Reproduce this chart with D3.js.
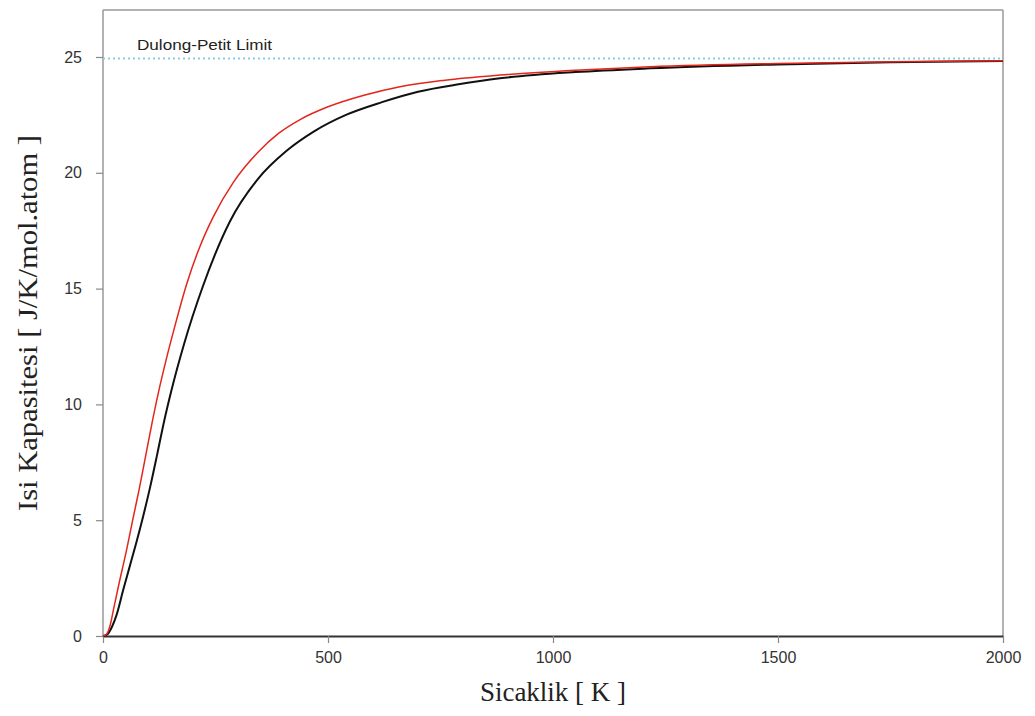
<!DOCTYPE html>
<html><head><meta charset="utf-8">
<script src="https://cdn.jsdelivr.net/npm/d3@7"></script>
<style>body{margin:0;background:#fff}svg{display:block}</style>
</head><body>
<svg id="c" width="1035" height="716"></svg>
<script>
const xTicks = [0, 500, 1000, 1500, 2000];
const yTicks = [0, 5, 10, 15, 20, 25];
const dulongPetit = 24.94;
const limitLabel = "Dulong-Petit Limit";
const xTitle = "Sicaklik [ K ]";
const yTitle = "Isi Kapasitesi [ J/K/mol.atom ]";

const blackT = [0, 10, 20, 30, 45, 60, 75, 89, 105, 120, 135, 152, 180, 222, 282, 345, 408, 470, 540, 620, 700, 790, 882, 1050, 1216, 1500, 1750, 2000];
const blackC = [0, 0.08, 0.4, 0.9, 2.0, 3.05, 4.1, 5.15, 6.45, 7.8, 9.2, 10.6, 12.6, 15.1, 17.9, 19.75, 20.95, 21.8, 22.5, 23.05, 23.5, 23.82, 24.08, 24.35, 24.51, 24.68, 24.77, 24.83];
const redT = [0, 8, 15, 25, 36, 50, 67, 80, 95, 110, 123, 140, 160, 186, 215, 245, 290, 345, 390, 438, 500, 580, 660, 760, 882, 1050, 1216, 1500, 1750, 2000];
const redC = [0, 0.08, 0.4, 1.3, 2.3, 3.5, 5.1, 6.3, 7.8, 9.3, 10.5, 11.9, 13.4, 15.2, 16.8, 18.1, 19.6, 20.9, 21.7, 22.3, 22.85, 23.35, 23.72, 24.0, 24.22, 24.43, 24.58, 24.72, 24.79, 24.84];

const svg = d3.select("#c");
const m = {l: 103, r: 1003, t: 10, b: 636};
const x = d3.scaleLinear().domain([0, 2000]).range([m.l, m.r]);
const y = d3.scaleLinear().domain([0, 25]).range([m.b, 57]);

// frame top/right
svg.append("line").attr("x1", m.l).attr("x2", m.r).attr("y1", m.t).attr("y2", m.t).attr("stroke", "#999").attr("stroke-width", 1.5);
svg.append("line").attr("x1", m.r).attr("x2", m.r).attr("y1", m.t).attr("y2", m.b).attr("stroke", "#999").attr("stroke-width", 1.5);

// y axis
const ya = svg.append("g").attr("transform", `translate(${m.l},0)`)
  .call(d3.axisLeft(y).tickValues(yTicks).tickSize(7).tickPadding(14).tickSizeOuter(0));
ya.select(".domain").attr("d", `M0,${m.t}V${m.b}`).attr("stroke", "#999").attr("stroke-width", 1.5);
ya.selectAll(".tick line").attr("stroke", "#888").attr("stroke-width", 1.2);
ya.selectAll(".tick text").attr("font-family", "Liberation Sans, Arial, sans-serif").attr("font-size", 16).attr("fill", "#333");

// x axis
const xa = svg.append("g").attr("transform", `translate(0,${m.b})`)
  .call(d3.axisBottom(x).tickValues(xTicks).tickFormat(d3.format("d")).tickSize(7).tickPadding(9).tickSizeOuter(0));
xa.select(".domain").attr("stroke", "#333").attr("stroke-width", 2);
xa.selectAll(".tick line").attr("stroke", "#888").attr("stroke-width", 1.2);
xa.selectAll(".tick text").attr("font-family", "Liberation Sans, Arial, sans-serif").attr("font-size", 16).attr("fill", "#333");

// Dulong-Petit line
svg.append("line").attr("x1", x(0)).attr("x2", x(2000)).attr("y1", y(dulongPetit)).attr("y2", y(dulongPetit))
  .attr("stroke", "#8ccfe0").attr("stroke-width", 2).attr("stroke-dasharray", "2,3");
svg.append("text").attr("x", 137).attr("y", 50).text(limitLabel)
  .attr("font-family", "Liberation Sans, Arial, sans-serif").attr("font-size", 15).attr("fill", "#222")
  .attr("textLength", 135).attr("lengthAdjust", "spacingAndGlyphs");

const line = d3.line().x(d => x(d[0])).y(d => y(d[1])).curve(d3.curveMonotoneX);
const blackData = blackT.map((t, i) => [t, blackC[i]]);
const redData = redT.map((t, i) => [t, redC[i]]);
svg.append("path").datum(blackData).attr("d", line).attr("fill", "none").attr("stroke", "#111").attr("stroke-width", 2);
svg.append("path").datum(redData).attr("d", line).attr("fill", "none").attr("stroke", "#e3261c").attr("stroke-width", 1.5);

// titles
svg.append("text").attr("x", 553).attr("y", 701).attr("text-anchor", "middle").text(xTitle)
  .attr("font-family", "Liberation Serif, Times New Roman, serif").attr("font-size", 27).attr("fill", "#222");
svg.append("text").attr("transform", "translate(37,323) rotate(-90)").attr("text-anchor", "middle").text(yTitle)
  .attr("font-family", "Liberation Serif, Times New Roman, serif").attr("font-size", 28).attr("fill", "#222")
  .attr("textLength", 376).attr("lengthAdjust", "spacingAndGlyphs");
</script>
</body></html>
